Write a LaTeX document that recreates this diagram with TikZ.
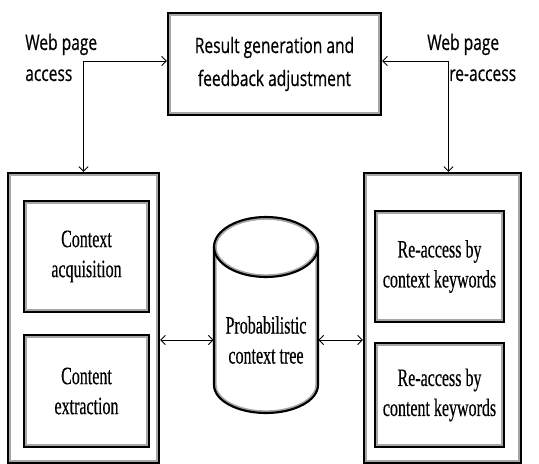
\documentclass[tikz,border=0pt]{standalone}
\usepackage{fontspec}
\usepackage{tikz}
\usetikzlibrary{arrows.meta,positioning,calc}

\newfontfamily\boxserif[FakeStretch=0.64,FakeBold=0.4]{Liberation Serif}
\newfontfamily\labelsans[FakeStretch=0.73,FakeBold=0.5]{Open Sans}

\tikzset{
  dblbox/.style={
    draw=black, line width=1.6pt, inner sep=0pt, align=center,
    path picture={\draw[gray!70, line width=4.2pt]
      (path picture bounding box.south west) rectangle (path picture bounding box.north east);}
  },
  serifbox/.style={dblbox, font=\boxserif\fontsize{18.75}{22.5}\selectfont},
  sanstext/.style={font=\labelsans\fontsize{16}{24.75}\selectfont, inner sep=0pt},
  link/.style={<->, line width=0.7pt}
}

\newcommand{\treeoutline}{(214,217) -- (214,79) arc[start angle=180, end angle=360, x radius=52, y radius=28] -- (318,217) arc[start angle=0, end angle=180, x radius=52, y radius=30] -- cycle}

\begin{document}
\begin{tikzpicture}[
  x=0.75pt, y=0.75pt,
  >={Straight Barb[length=3.5pt,width=7pt]}
]

\useasboundingbox (0,0) rectangle (539,464);

% ---------- top box ----------
\node[dblbox, sanstext, minimum width=159.75pt, minimum height=76.5pt] (result) at (274.5,400)
  {Result generation and\\feedback adjustment};

% ---------- left column ----------
\node[dblbox, minimum width=113.25pt, minimum height=217.5pt] (access) at (83.5,146) {};
\node[serifbox, minimum width=93.75pt, minimum height=83.25pt] (acquire) at (86.5,207.5)
  {Context\\acquisition};
\node[serifbox, minimum width=93.75pt, minimum height=84pt] (extract) at (86.5,73)
  {Content\\extraction};

% ---------- right column ----------
\node[dblbox, minimum width=117.75pt, minimum height=217.5pt] (reaccess) at (442.5,146) {};
\node[serifbox, minimum width=96.75pt, minimum height=83.25pt] (bycontext) at (439.5,197.5)
  {Re-access by\\context keywords};
\node[serifbox, minimum width=96.75pt, minimum height=78pt] (bycontent) at (439.5,69)
  {Re-access by\\content keywords};

% ---------- cylinder ----------
\begin{scope}
  \clip \treeoutline;
  \draw[gray!70, line width=4pt] \treeoutline;
\end{scope}
\begin{scope}
  \clip (266,217) ellipse [x radius=52, y radius=30];
  \draw[gray!70, line width=4pt] (266,217) ellipse [x radius=52, y radius=30];
\end{scope}
\draw[line width=1.6pt] \treeoutline;
\draw[line width=1.6pt] (214,217) arc[start angle=180, end angle=360, x radius=52, y radius=30];
\node[font=\boxserif\fontsize{18.75}{22.5}\selectfont, align=center, inner sep=0pt,
  minimum width=78pt] (tree) at (266,124) {Probabilistic\\context tree};

% ---------- labels ----------
\node[sanstext, anchor=base west] (lab1) at (25,414) {Web page};
\node[sanstext, anchor=base west] (lab2) at (25,383) {access};
\node[sanstext, anchor=base west] (lab3) at (427,414) {Web page};
\node[sanstext, anchor=base west] (lab4) at (449,383) {re-access};

% ---------- connectors ----------
\draw[link] (access.north) |- ([yshift=2.25pt]result.west);
\draw[link] ([xshift=4.5pt]reaccess.north) |- ([yshift=2.25pt]result.east);
\draw[link] (access.east |- tree.west) -- (tree.west);
\draw[link] (tree.east) -- (reaccess.west |- tree.east);

\end{tikzpicture}
\end{document}
